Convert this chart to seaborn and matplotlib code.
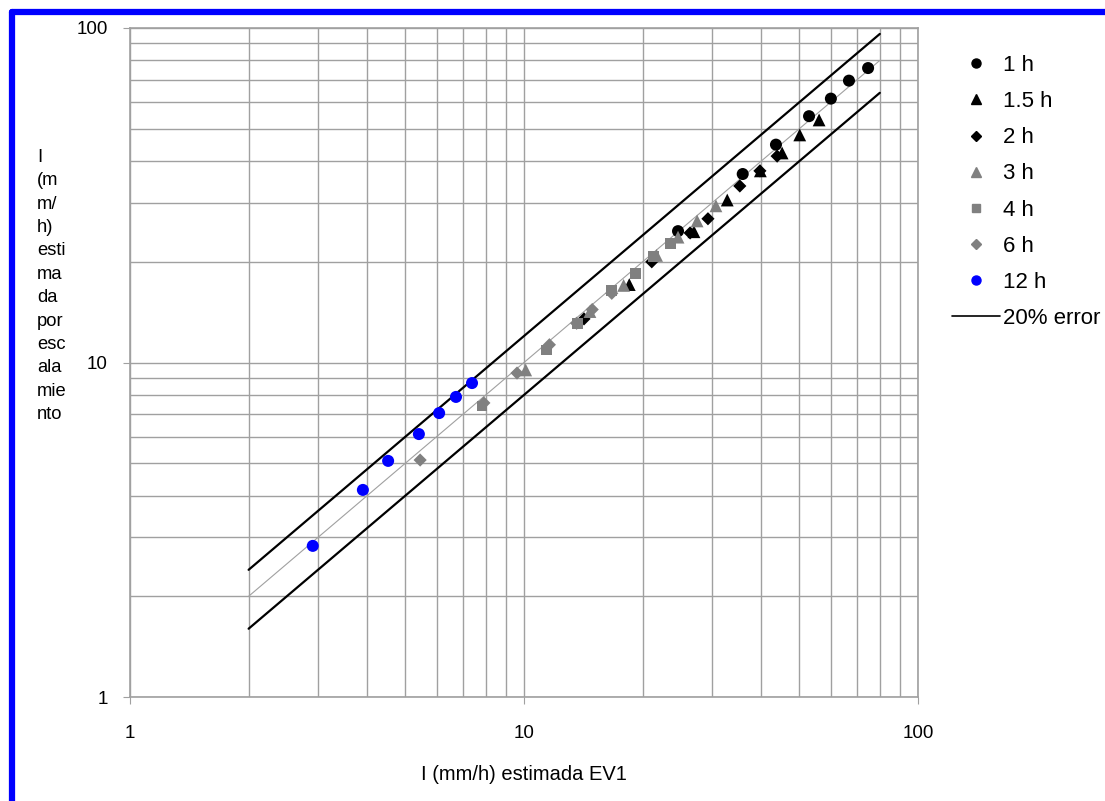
import pandas as pd
import numpy as np
import matplotlib.pyplot as plt
import seaborn as sns
from matplotlib.lines import Line2D

# --- data (I estimated by EV1 vs. by scaling, mm/h) ---
x_1h = [24.6, 35.9, 43.6, 52.9, 60.1, 66.8, 74.7]
y_1h = [24.7, 36.6, 44.8, 54.5, 61.5, 69.6, 75.9]

x_15h = [18.5, 27.0, 32.8, 39.8, 45.2, 50.1, 56.1]
y_15h = [17.1, 24.6, 30.6, 37.4, 42.3, 47.9, 53.1]

x_2h = [14.2, 21.1, 26.4, 29.3, 35.3, 39.7, 43.9]
y_2h = [13.5, 20.0, 24.4, 26.9, 33.7, 37.4, 41.4]

x_3h = [10.1, 14.7, 17.9, 21.7, 24.6, 27.5, 30.7]
y_3h = [9.5, 14.2, 17.0, 20.9, 23.7, 26.5, 29.4]

x_4h = [7.82, 11.4, 13.7, 16.7, 19.2, 21.3, 23.5]
y_4h = [7.41, 10.9, 13.1, 16.4, 18.5, 20.7, 22.7]

x_6h = [5.45, 7.91, 9.60, 11.6, 13.6, 14.9, 16.7]
y_6h = [5.11, 7.57, 9.30, 11.3, 13.1, 14.4, 16.1]

x_12h = [2.91, 3.90, 4.52, 5.41, 6.09, 6.72, 7.38]
y_12h = [2.83, 4.16, 5.08, 6.11, 7.06, 7.89, 8.68]

# reference lines (1:1 and +/-20 %)
x_ref = [2, 80]
err = 0.20

# name, x, y, marker, colour, scatter size, legend marker size
series = [
    ('1 h', x_1h, y_1h, 'o', 'black', 75, 6.5),
    ('1.5 h', x_15h, y_15h, '^', 'black', 85, 7.5),
    ('2 h', x_2h, y_2h, 'D', 'black', 45, 5.2),
    ('3 h', x_3h, y_3h, '^', 'gray', 85, 7.5),
    ('4 h', x_4h, y_4h, 's', 'gray', 60, 6),
    ('6 h', x_6h, y_6h, 'D', 'gray', 45, 5.2),
    ('12 h', x_12h, y_12h, 'o', 'blue', 75, 6.5),
]

sns.set_style('white')
plt.rcParams['font.family'] = ['Liberation Sans', 'DejaVu Sans']
plt.rcParams['text.color'] = 'black'
plt.rcParams['xtick.color'] = 'black'
plt.rcParams['ytick.color'] = 'black'
plt.rcParams['axes.labelcolor'] = 'black'

fig = plt.figure(figsize=(11.05, 8.01), dpi=100)
ax = fig.add_axes([130 / 1105, 1 - 697 / 801, 788 / 1105, 669 / 801])
ax.set_xscale('log')
ax.set_yscale('log')

ref = pd.DataFrame({'x': x_ref})
ref['y'] = ref['x']
ref['up'] = ref['x'] * (1 + err)
ref['lo'] = ref['x'] * (1 - err)
sns.lineplot(data=ref, x='x', y='y', color='#a0a0a0', lw=0.8, ax=ax)
sns.lineplot(data=ref, x='x', y='up', color='black', lw=1.6, ax=ax)
sns.lineplot(data=ref, x='x', y='lo', color='black', lw=1.6, ax=ax)

handles = []
for name, xs, ys, mk, col, size, lsize in series:
    sns.scatterplot(x=xs, y=ys, marker=mk, color=col, s=size, edgecolor='none',
                    ax=ax, zorder=3)
    handles.append(Line2D([], [], ls='none', marker=mk, color=col,
                          markersize=lsize, label=name))
handles.append(Line2D([], [], color='black', lw=1.2, label='20% error'))

ax.set_xlim(1, 100)
ax.set_ylim(1, 100)
ax.grid(True, which='both', color='#a0a0a0', lw=1.0)
for s in ax.spines.values():
    s.set_color('#a0a0a0')
    s.set_linewidth(1.2)
ax.tick_params(which='major', direction='out', length=5, labelsize=13.5,
               bottom=True, left=True)
ax.tick_params(axis='both', which='major', color='#a0a0a0')
ax.tick_params(axis='x', which='major', pad=15)
ax.tick_params(axis='y', which='major', pad=11)
ax.tick_params(which='minor', length=0)
ax.set_xticks([1, 10, 100])
ax.set_xticklabels(['1', '10', '100'])
ax.set_yticks([1, 10, 100])
ax.set_yticklabels(['1', '10', '100'])
ax.set_xlabel('I (mm/h) estimada EV1', fontsize=14.5, labelpad=17)
ax.set_ylabel('')

fig.text(37 / 1105, 1 - 149 / 801,
         'I\n(m\nm/\nh)\nesti\nma\nda\npor\nesc\nala\nmie\nnto',
         ha='left', va='top', fontsize=13.2, linespacing=1.49)

ax.legend(handles=handles, loc='upper left', frameon=False,
          bbox_to_anchor=(941 / 1105, 1 - 44 / 801),
          bbox_transform=fig.transFigure, fontsize=16, borderpad=0,
          handlelength=2.15, handletextpad=0.15, labelspacing=0.68)

# blue frame at the top and left edge
fig.add_artist(Line2D([12 / 1105, 1], [1 - 12 / 801, 1 - 12 / 801],
                      transform=fig.transFigure, color='blue', lw=4.5))
fig.add_artist(Line2D([12 / 1105, 12 / 1105], [0, 1 - 12 / 801],
                      transform=fig.transFigure, color='blue', lw=4.5))

fig.savefig('out.png', dpi=100)
